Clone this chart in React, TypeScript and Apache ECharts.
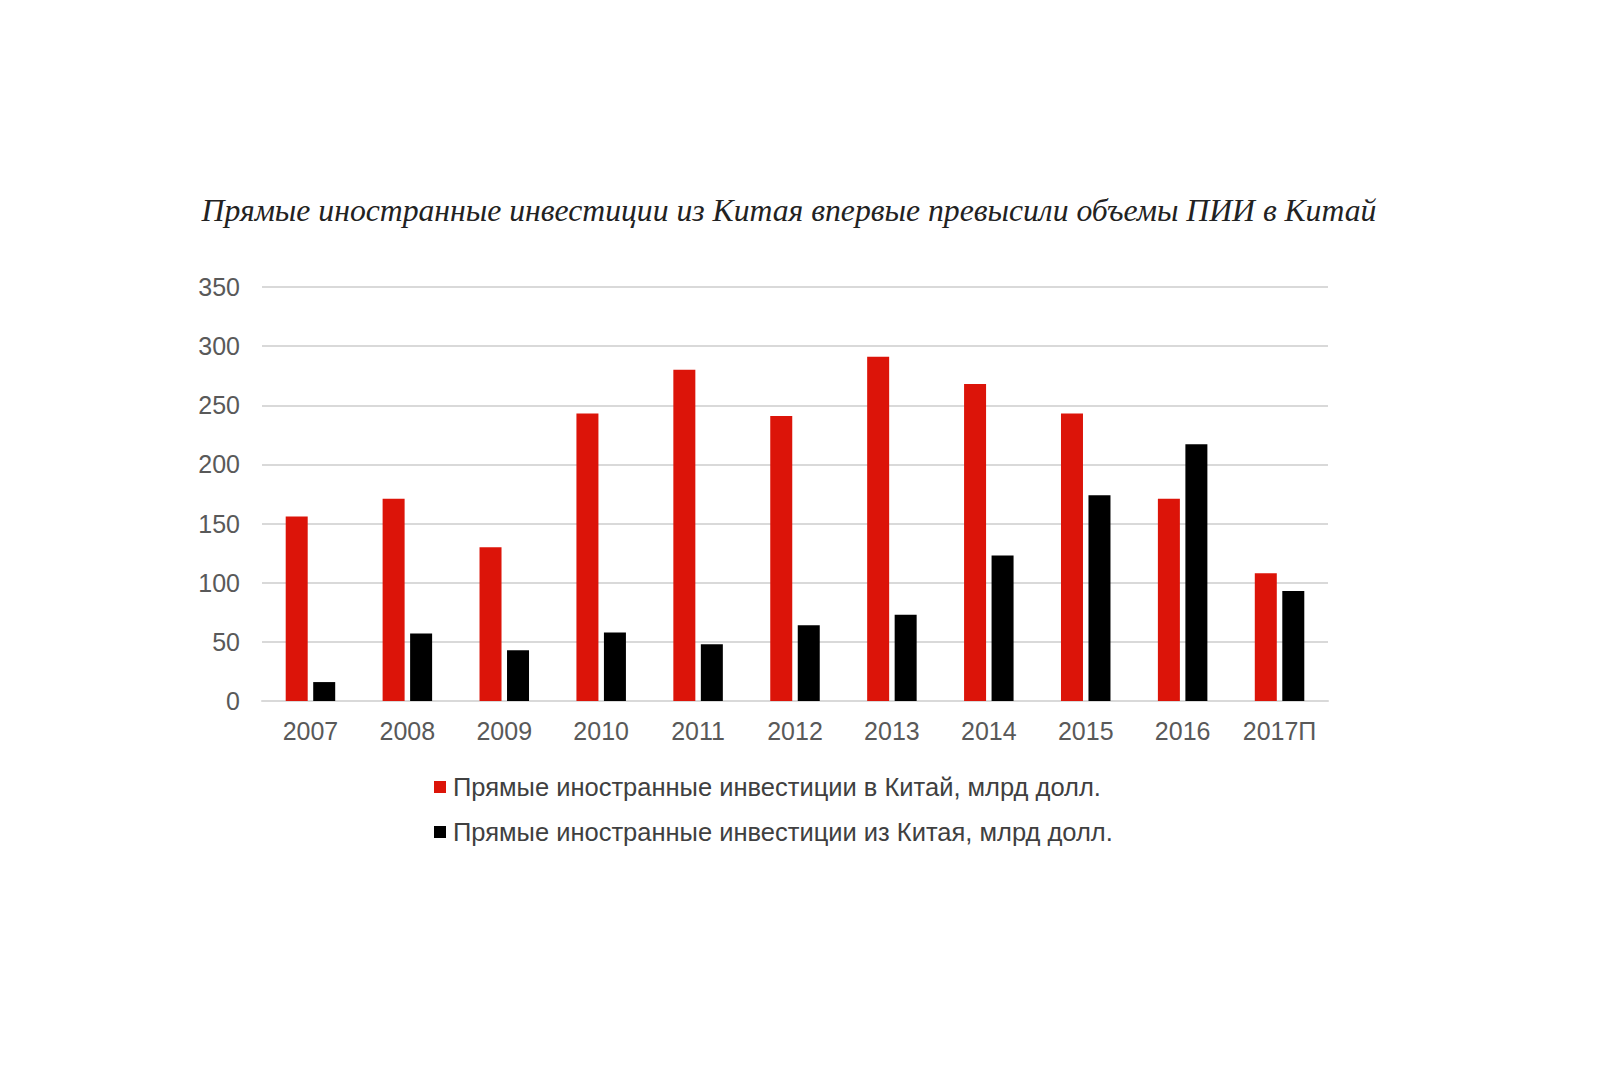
import React, { useEffect, useRef } from "react";
import * as echarts from "echarts";

const categories = ["2007", "2008", "2009", "2010", "2011", "2012", "2013", "2014", "2015", "2016", "2017П"];
const fdiInto = [156, 171, 130, 243, 280, 241, 291, 268, 243, 171, 108];
const fdiFrom = [16, 57, 43, 58, 48, 64, 73, 123, 174, 217, 93];
const seriesNames = [
  "Прямые иностранные инвестиции в Китай, млрд долл.",
  "Прямые иностранные инвестиции из Китая, млрд долл.",
];
const titleText = "Прямые иностранные инвестиции из Китая впервые превысили объемы ПИИ в Китай";

export default function App() {
  const ref = useRef<HTMLDivElement>(null);
  useEffect(() => {
    document.body.style.margin = "0";
    const chart = echarts.init(ref.current!, null, { renderer: "svg" });
    chart.setOption({
      animation: false,
      backgroundColor: "#ffffff",
      title: {
        text: titleText,
        left: 784,
        textAlign: "center",
        top: 189,
        textStyle: {
          fontFamily: "Liberation Serif",
          fontStyle: "italic",
          fontWeight: "normal",
          fontSize: 31.7,
          color: "#222222",
        },
      },
      grid: { left: 262, right: 272, top: 287, bottom: 365 },
      legend: {
        orient: "vertical",
        left: 434,
        top: 774,
        padding: 0,
        itemWidth: 12,
        itemHeight: 12,
        itemGap: 19,
        icon: "rect",
        textStyle: { fontFamily: "Liberation Sans", fontSize: 25.5, color: "#404040", padding: [0, 0, 0, 2] },
        data: seriesNames,
      },
      xAxis: {
        type: "category",
        data: categories,
        axisLine: { lineStyle: { color: "#d9d9d9", width: 2 } },
        axisTick: { show: false },
        axisLabel: { fontFamily: "Liberation Sans", fontSize: 25, color: "#595959", margin: 17 },
      },
      yAxis: {
        type: "value",
        min: 0,
        max: 350,
        interval: 50,
        axisLine: { show: false },
        axisTick: { show: false },
        splitLine: { lineStyle: { color: "#d9d9d9", width: 2 } },
        axisLabel: { fontFamily: "Liberation Sans", fontSize: 25, color: "#595959", margin: 22 },
      },
      series: [
        {
          name: seriesNames[0],
          type: "bar",
          data: fdiInto,
          barWidth: 22,
          barGap: "25%",
          itemStyle: { color: "#dc1409" },
        },
        {
          name: seriesNames[1],
          type: "bar",
          data: fdiFrom,
          barWidth: 22,
          barGap: "25%",
          itemStyle: { color: "#000000" },
        },
      ],
    });
    return () => chart.dispose();
  }, []);
  return <div ref={ref} style={{ width: 1600, height: 1066 }} />;
}
